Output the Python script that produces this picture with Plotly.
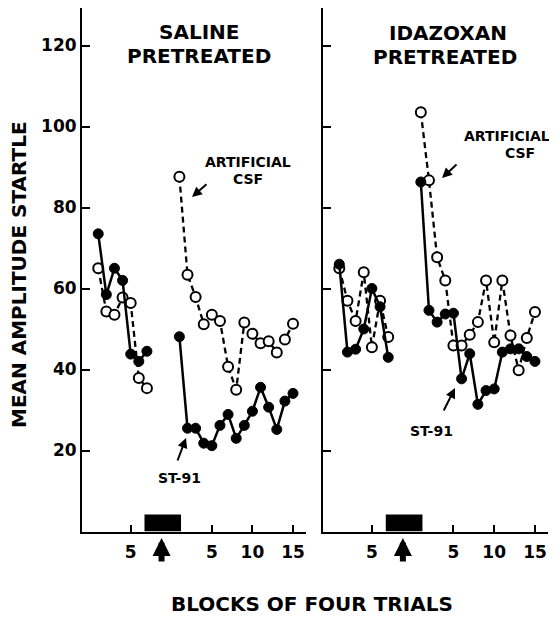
import plotly.graph_objects as go

# ---------------- data ----------------
pre_blocks = [1, 2, 3, 4, 5, 6, 7]
post_blocks = list(range(1, 16))
POST_OFFSET = 10  # post-infusion blocks are drawn after the infusion gap

saline_pre_st91 = [73.5, 58.5, 65, 62, 43.8, 42, 44.5]
saline_pre_csf = [65, 54.3, 53.5, 57.8, 56.4, 37.9, 35.4]
saline_post_st91 = [48.1, 25.5, 25.5, 21.8, 21.2, 26.2, 28.9, 23, 26.2, 29.7, 35.6, 30.7, 25.2, 32.2, 34.1]
saline_post_csf = [87.6, 63.4, 57.9, 51.2, 53.5, 52, 40.7, 35, 51.6, 48.8, 46.5, 47, 44.2, 47.4, 51.3]

idaz_pre_st91 = [66, 44.3, 45, 50, 60, 55.5, 43]
idaz_pre_csf = [65, 57, 52, 64, 45.5, 57, 48]
idaz_post_st91 = [86.3, 54.6, 51.7, 53.7, 53.9, 37.7, 43.9, 31.4, 34.8, 35.2, 44.3, 45.1, 45.1, 43.2, 42]
idaz_post_csf = [103.5, 86.7, 67.7, 62, 45.9, 45.9, 48.6, 51.7, 62, 46.7, 62, 48.4, 39.8, 47.8, 54.2]

y_tickvals = [20, 40, 60, 80, 100, 120]
x_tickvals = [5, 15, 20, 25]
x_ticktext = ["5", "5", "10", "15"]
infusion = [6.7, 11.2, 4.2]  # start, end, bar height
infusion_arrow_x = 8.8

panel_titles = [("SALINE", "PRETREATED"), ("IDAZOXAN", "PRETREATED")]

# ---------------- figure ----------------
FONT = "DejaVu Sans"
# the page body has an 8px margin; the figure is sized so it fits the window exactly
OFF = 8
W, H = 557 - OFF, 620 - OFF

def px(x):
    return (x - OFF) / W

def py(y):
    return 1 - (y - OFF) / H

fig = go.Figure()

def add_series(xax, yax, pre_csf, post_csf, pre_st, post_st):
    post_x = [b + POST_OFFSET for b in post_blocks]
    open_m = dict(symbol="circle", size=10, color="white", line=dict(color="black", width=2))
    fill_m = dict(symbol="circle", size=10, color="black", line=dict(color="black", width=1))
    dash_l = dict(color="black", width=2.3, dash="6px,4px")
    solid_l = dict(color="black", width=2.5)
    for xs, ys in ((pre_blocks, pre_csf), (post_x, post_csf)):
        fig.add_trace(go.Scatter(x=xs, y=ys, mode="lines+markers", line=dash_l, marker=open_m,
                                 xaxis=xax, yaxis=yax, showlegend=False, hoverinfo="skip"))
    for xs, ys in ((pre_blocks, pre_st), (post_x, post_st)):
        fig.add_trace(go.Scatter(x=xs, y=ys, mode="lines+markers", line=solid_l, marker=fill_m,
                                 xaxis=xax, yaxis=yax, showlegend=False, hoverinfo="skip"))

add_series("x", "y", saline_pre_csf, saline_post_csf, saline_pre_st91, saline_post_st91)
add_series("x2", "y2", idaz_pre_csf, idaz_post_csf, idaz_pre_st91, idaz_post_st91)

Y0_PX, Y120_PX = 531.5, 45.5
ytop = (Y0_PX - OFF) / ((Y0_PX - Y120_PX) / 120)
ydom = [py(Y0_PX), 1.0]
tickfont = dict(family=FONT, size=17, color="black", weight="bold")
common_x = dict(range=[-1, 26.6], showline=True, linewidth=2, linecolor="black", ticks="inside",
                ticklen=7, tickwidth=1.5, tickcolor="black", tickvals=x_tickvals, ticktext=x_ticktext,
                tickfont=tickfont, showgrid=False, zeroline=False, ticklabelstandoff=4)
common_y = dict(range=[0, ytop], domain=ydom, showline=True, linewidth=2, linecolor="black",
                ticks="inside", ticklen=8, tickwidth=1.5, tickcolor="black", tickvals=y_tickvals,
                tickfont=tickfont, showgrid=False, zeroline=False)

fig.update_layout(
    width=W, height=H, margin=dict(l=0, r=0, t=0, b=0),
    paper_bgcolor="white", plot_bgcolor="white",
    xaxis=dict(domain=[px(82), px(306)], anchor="y", **common_x),
    xaxis2=dict(domain=[px(323), px(548)], anchor="y2", **common_x),
    yaxis=dict(anchor="x", showticklabels=True, **common_y),
    yaxis2=dict(anchor="x2", showticklabels=False, **common_y),
    font=dict(family=FONT, color="black"),
)

# infusion bars and arrows
for xr, yr in (("x", "y"), ("x2", "y2")):
    fig.add_shape(type="rect", xref=xr, yref=yr, x0=infusion[0], x1=infusion[1], y0=0, y1=infusion[2],
                  fillcolor="black", line=dict(width=0))
    fig.add_annotation(xref=xr, yref="paper", x=infusion_arrow_x, y=py(538), text="",
                       showarrow=True, ax=0, ay=25, arrowhead=2, arrowwidth=6, arrowsize=0.6,
                       arrowcolor="black")

def ptext(x, y, text, size, **kw):
    fig.add_annotation(xref="paper", yref="paper", x=px(x), y=py(y), text=text,
                       showarrow=False, xanchor="center", yanchor="middle",
                       font=dict(family=FONT, size=size, color="black", weight="bold"), **kw)

# panel titles
ptext(199, 32, panel_titles[0][0], 20)
ptext(199, 56, panel_titles[0][1], 20)
ptext(448, 33, panel_titles[1][0], 20)
ptext(445, 57, panel_titles[1][1], 20)

# axis titles
ptext(19, 275, "MEAN AMPLITUDE STARTLE", 20, textangle=-90)
ptext(312, 604, "BLOCKS OF FOUR TRIALS", 20)

# series labels
ptext(248, 162, "ARTIFICIAL", 14)
ptext(248, 179, "CSF", 14)
ptext(507, 136, "ARTIFICIAL", 14)
ptext(520, 153, "CSF", 14)
ptext(179, 478, "ST-91", 14)
ptext(431, 431, "ST-91", 14)

def parrow(hx, hy, tx, ty):
    fig.add_annotation(xref="paper", yref="paper", x=px(hx), y=py(hy), text="",
                       showarrow=True, ax=tx - hx, ay=ty - hy, arrowhead=2, arrowwidth=2,
                       arrowsize=1, arrowcolor="black")

parrow(192, 197, 208, 183)
parrow(442, 178, 458, 163)
parrow(186, 438, 177, 462)
parrow(455, 388, 443, 412)

fig.write_html("out.html")
